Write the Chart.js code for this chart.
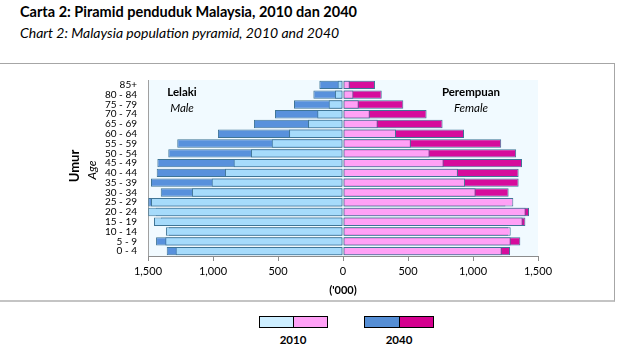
<!DOCTYPE html>
<html>
<head>
<meta charset="utf-8">
<script src="https://cdn.jsdelivr.net/npm/chart.js@4.4.1/dist/chart.umd.min.js"></script>
<style>
  html, body { margin:0; padding:0; background:#fff; }
  body { width:639px; height:361px; position:relative; overflow:hidden; font-family: Lato, "Open Sans", sans-serif; color:#000; }
  .abs { position:absolute; white-space:nowrap; }
  #frame { position:absolute; left:-2px; top:63px; width:616px; height:236px; border-top:1px solid #a6a6a6; border-right:1px solid #a6a6a6; border-bottom:2px solid #c4c4c4; }
  #wrap { position:absolute; left:0; top:63px; width:616px; height:238px; }
  .rot { position:absolute; transform: translate(-50%,-50%) rotate(-90deg); white-space:nowrap; }
  .c { transform: translate(-50%,-50%); }
  .box { position:absolute; height:12px; border:1px solid #000; box-sizing:border-box; }
</style>
</head>
<body>
<div class="abs" id="t1" style="left:20px; top:3px; font-size:14.5px; font-weight:bold;">Carta 2: Piramid penduduk Malaysia, 2010 dan 2040</div>
<div class="abs" id="t2" style="left:20px; top:24px; font-size:14px; font-style:italic;">Chart 2: Malaysia population pyramid, 2010 and 2040</div>
<div id="frame"></div>
<div id="wrap"><canvas id="c"></canvas></div>

<div class="rot" style="left:74px; top:166px; font-size:13px; font-weight:bold;">Umur</div>
<div class="rot" style="left:91px; top:170px; font-size:12px; font-style:italic;">Age</div>

<div class="abs c" style="left:182px; top:91px; font-size:11.5px; font-weight:bold;">Lelaki</div>
<div class="abs c" style="left:182px; top:107px; font-size:11.5px; font-style:italic;">Male</div>
<div class="abs c" style="left:471px; top:91px; font-size:11.5px; font-weight:bold;">Perempuan</div>
<div class="abs c" style="left:471px; top:107px; font-size:11.5px; font-style:italic;">Female</div>

<div class="box" style="left:259px; top:316px; width:35px; background:#cdeeff;"></div>
<div class="box" style="left:293px; top:316px; width:35px; background:#ffa1f6;"></div>
<div class="box" style="left:364px; top:316px; width:36px; background:#558ed5;"></div>
<div class="box" style="left:399px; top:316px; width:35px; background:#d5008f;"></div>
<div class="abs c" style="left:293px; top:339px; font-size:11.5px; font-weight:bold;">2010</div>
<div class="abs c" style="left:399px; top:339px; font-size:11.5px; font-weight:bold;">2040</div>

<script>
const ageGroups = ['85+','80 - 84','75 - 79','70 - 74','65 - 69','60 - 64','55 - 59','50 - 54','45 - 49','40 - 44','35 - 39','30 - 34','25 - 29','20 - 24','15 - 19','10 - 14','5 - 9','0 - 4'];
const male2010   = [41, 62, 110, 198, 269, 415, 548, 708, 841, 908, 1010, 1162, 1477, 1498, 1454, 1362, 1367, 1287];
const male2040   = [182, 228, 377, 523, 685, 962, 1275, 1344, 1428, 1433, 1477, 1402, 1498, 1440, 1400, 1340, 1438, 1356];
const female2010 = [52, 80, 121, 206, 267, 408, 522, 666, 774, 884, 939, 1020, 1310, 1405, 1382, 1290, 1290, 1221];
const female2040 = [246, 298, 464, 643, 766, 931, 1217, 1332, 1377, 1351, 1351, 1274, 1250, 1431, 1403, 1270, 1364, 1285];
const xTicks = [-1500, -1000, -500, 0, 500, 1000, 1500];

const FONT = 'Lato, "Open Sans", sans-serif';
const bgPlugin = {
  id: 'bg',
  beforeDraw(chart) {
    const a = chart.chartArea, ctx = chart.ctx;
    ctx.save();
    ctx.fillStyle = '#f1faff';
    ctx.fillRect(a.left, a.top, a.right - a.left, a.bottom - a.top);
    ctx.restore();
  }
};

const common = { grouped:false, barPercentage:0.86, categoryPercentage:1, borderWidth:1, borderSkipped:false, borderColor:'#3f7596' };

new Chart(document.getElementById('c'), {
  type: 'bar',
  data: {
    labels: ageGroups,
    datasets: [
      Object.assign({ label:'Lelaki 2010', data: male2010.map(v => -v), backgroundColor:'#a6dbfb' }, common),
      Object.assign({ label:'Perempuan 2010', data: female2010, backgroundColor:'#ffa1f6' }, common),
      Object.assign({ label:'Lelaki 2040', data: male2040.map(v => -v), backgroundColor:'#5891dc' }, common),
      Object.assign({ label:'Perempuan 2040', data: female2040, backgroundColor:'#d60c9c' }, common)
    ]
  },
  options: {
    indexAxis: 'y',
    responsive: true,
    maintainAspectRatio: false,
    animation: false,
    devicePixelRatio: 1,
    layout: { padding: { left:0, right:78, top:17, bottom:0 } },
    plugins: { legend: { display:false }, tooltip: { enabled:false } },
    scales: {
      y: {
        type: 'category',
        position: 'left',
        afterFit(s) { s.width = 148; },
        grid: { display:false, drawTicks:false },
        border: { display:true, color:'#a0a0a0' },
        ticks: { autoSkip:false, color:'#000', padding:11, font:{ family:FONT, size:10 } }
      },
      x: {
        type: 'linear',
        min: -1500, max: 1500,
        afterBuildTicks(s) { s.ticks = xTicks.map(v => ({ value: v })); },
        afterFit(s) { s.height = 45; },
        grid: { drawOnChartArea:false, drawTicks:true, tickLength:5, color:'#8c8c8c' },
        border: { display:true, color:'#8c8c8c' },
        ticks: { color:'#000', padding:4, font:{ family:FONT, size:11 },
          callback: v => Math.abs(v).toLocaleString('en-US') },
        title: { display:true, text:"('000)", color:'#000', font:{ family:FONT, size:11, weight:'bold' }, padding:{ top:2, bottom:4 } }
      }
    }
  },
  plugins: [bgPlugin]
});
</script>
</body>
</html>
